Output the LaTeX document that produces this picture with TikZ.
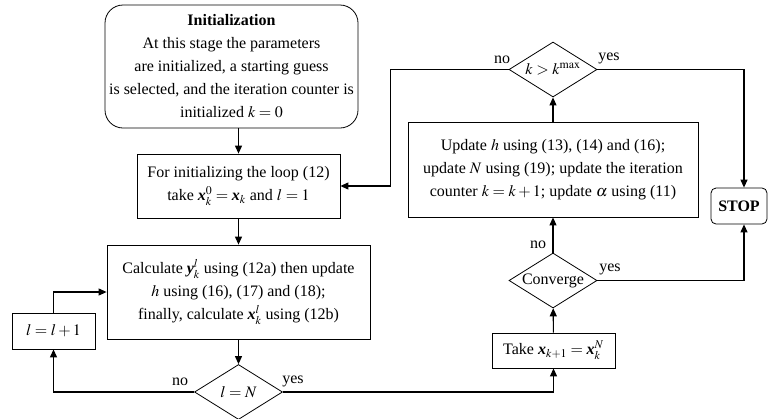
\documentclass[tikz,border=0pt]{standalone}
\usepackage{amsmath}
\usepackage{mathptmx}
\usepackage[no-math]{fontspec}
\setmainfont{Liberation Serif}
\usetikzlibrary{shapes.geometric,arrows.meta}
\newcommand{\bvx}{\textbf{\textit{x}}}
\newcommand{\bvy}{\textbf{\textit{y}}}

\begin{document}
\begin{tikzpicture}[x=1pt,y=-1pt,line width=1.1pt,
    >={Triangle[length=8pt,width=7pt]},
    font=\fontsize{16}{23}\selectfont,
    box/.style={draw,line width=0.8pt,align=center,inner sep=0pt},
    decision/.style={draw,line width=0.8pt,diamond,aspect=1.6,inner sep=0pt,minimum width=88pt,minimum height=55pt}]
\useasboundingbox (0,0) rectangle (770,418);
    \node (init) [box,rounded corners=18pt,minimum width=253pt,minimum height=123pt] at (231.5,66.5)
      {\textbf{Initialization}\\At this stage the parameters\\are initialized, a starting guess\\is selected, and the iteration counter is\\initialized $k=0$};
    \node (loop) [box,minimum width=203pt,minimum height=64pt] at (238.5,186)
      {For initializing the loop (12)\\take $\bvx_k^0=\bvx_k$ and $l=1$};
\node (calc) [box,minimum width=263pt,minimum height=94pt] at (238.5,292)
      {Calculate $\bvy_k^l$ using (12a) then update\\$h$ using (16), (17) and (18);\\finally, calculate $\bvx_k^l$ using (12b)};
\node (incl) [box,minimum width=83pt,minimum height=36pt] at (53.5,331) {$l=l+1$};
\node (lN) [decision] at (238.5,392) {$l=N$};
\node (take) [box,minimum width=123pt,minimum height=35pt] at (553.5,350.5) {Take $\bvx_{k+1}=\bvx_k^N$};
\node (conv) [decision] at (553,280.5) {Converge};
\node (upd) [box,minimum width=290pt,minimum height=95pt] at (553,169.5)
      {Update $h$ using (13), (14) and (16);\\update $N$ using (19); update the iteration\\counter $k=k+1$; update $\alpha$ using (11)};
\node (kmax) [decision] at (553,69.5) {$k>k^{\max}$};
\node (stop) [box,rounded corners=5pt,minimum width=56pt,minimum height=36pt] at (739,206) {\textbf{STOP}};
\draw [->] (loop.north |- init.south) to (loop.north);
\draw [->] (loop) to (calc);
\draw [->] (calc) to (lN);
\draw [->] (lN.west) -| (incl.south);
\draw [->] (incl.north) |- (calc.west);
\draw [->] (lN.east) -| (take.south);
\draw [->] (take) to (conv);
\draw [->] (conv) to (upd);
\draw [->] (upd) to (kmax);
\draw [->] (kmax.west) -- ++(-118,0) |- (loop.east);
\draw [->] (kmax.east) -| ([xshift=5pt]stop.north);
\draw [->] (conv.east) -| ([xshift=5pt]stop.south);
\node (lno) at (180,382) {no};
\node (lyes) at (293,381) {yes};
\node (cno) at (538,245) {no};
\node (cyes) at (610,269) {yes};
\node (kno) at (502,60) {no};
\node (kyes) at (609,58) {yes};
  \end{tikzpicture}
\end{document}
